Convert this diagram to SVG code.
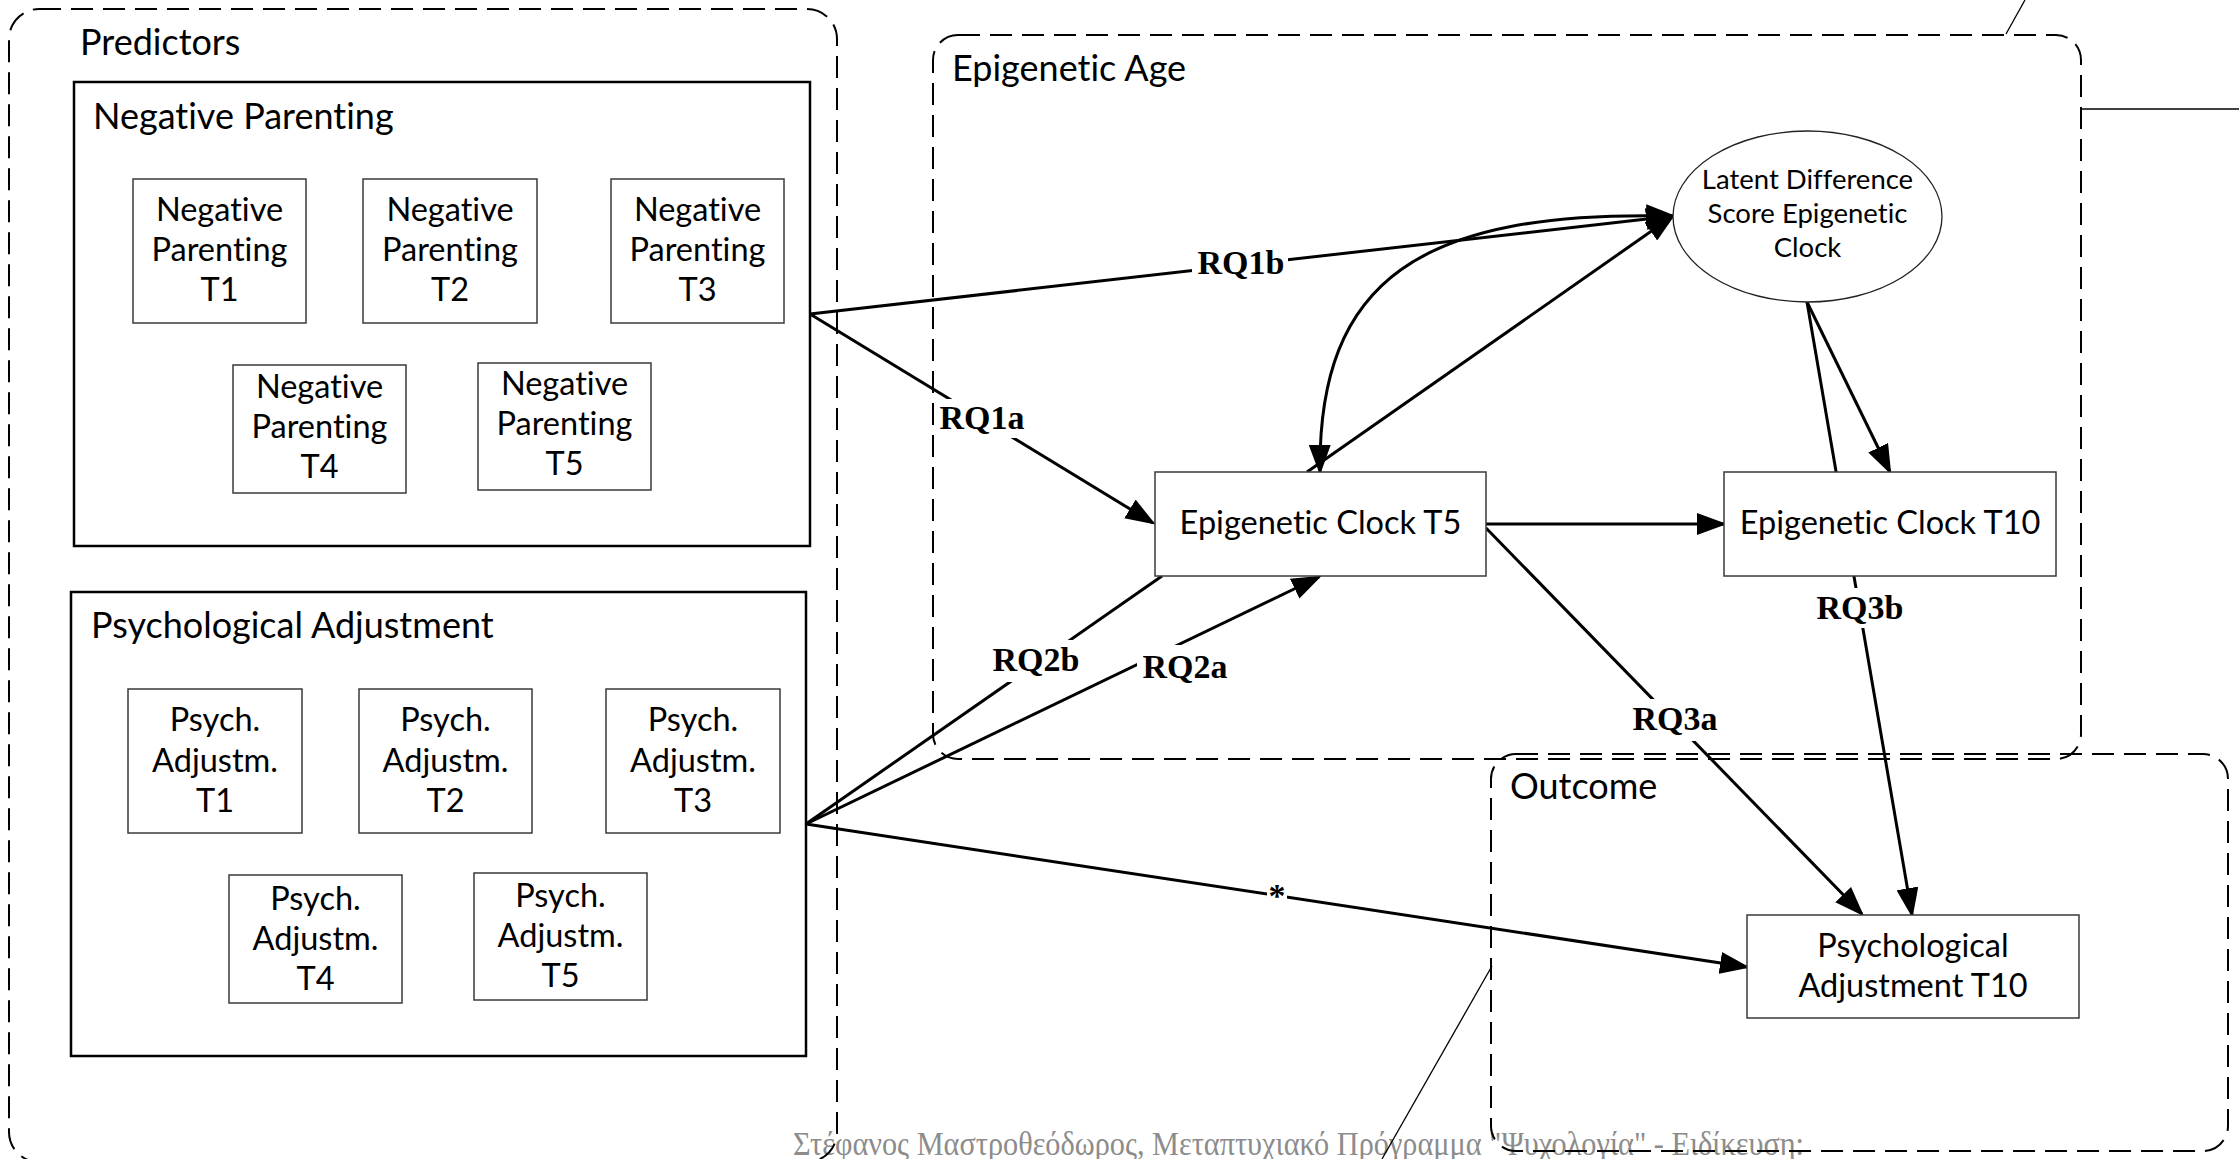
<svg xmlns="http://www.w3.org/2000/svg" width="2239" height="1159" viewBox="0 0 2239 1159">
  <style>
    .zone { fill: none; stroke: #000; stroke-width: 2; stroke-dasharray: 22 10; }
    .grp { fill: none; stroke: #000; stroke-width: 2.5; }
    .box { fill: #fff; stroke: #3a3a3a; stroke-width: 1.5; }
    .ell { fill: #fff; stroke: #222; stroke-width: 1.3; }
    .lbl, .txt, .small { font-family: Lato, "Liberation Sans", sans-serif; fill: #000; font-variant-ligatures: none; font-feature-settings: "liga" 0; }
    .lbl { font-size: 36px; }
    .txt { font-size: 32.5px; text-anchor: middle; }
    .small { font-size: 27.5px; text-anchor: middle; }
    .rq { font-family: "Liberation Serif", "Times New Roman", serif; font-size: 34px; font-weight: bold; fill: #000; text-anchor: middle; }
    .gap { fill: #fff; stroke: none; }
    .edge { fill: none; stroke: #000; stroke-width: 3; }
    .thin { fill: none; stroke: #000; stroke-width: 1.3; }
    .foot { font-family: "Liberation Serif", "DejaVu Serif", serif; font-size: 34px; fill: #8c8c8c; }
  </style>
  <defs>
    <marker id="arrow" viewBox="0 0 30 22" refX="27" refY="11" markerWidth="30" markerHeight="22" markerUnits="userSpaceOnUse" orient="auto-start-reverse">
      <path d="M0,0 L30,11 L0,22 z" fill="#000"/>
    </marker>
  </defs>

  <rect width="2239" height="1159" fill="#fff"/>

  <!-- page footer -->
  <text class="foot" x="793" y="1155" textLength="1011" lengthAdjust="spacingAndGlyphs">Στέφανος Μαστροθεόδωρος, Μεταπτυχιακό Πρόγραμμα &quot;Ψυχολογία&quot; - Ειδίκευση:</text>

  <!-- stray callout strokes -->
  <g id="callouts">
    <line class="thin" x1="2006" y1="34" x2="2025" y2="0"/>
    <line class="thin" x1="2081" y1="109" x2="2239" y2="109"/>
    <line class="thin" x1="1492" y1="966" x2="1382" y2="1159"/>
  </g>

  <!-- dashed zones -->
  <g id="zone-predictors">
    <rect class="zone" x="9" y="9" width="828" height="1153" rx="30" ry="30"/>
    <text class="lbl" x="80" y="55">Predictors</text>
  </g>
  <g id="zone-epigenetic">
    <rect class="zone" x="933" y="35" width="1148" height="724" rx="25" ry="25"/>
    <text class="lbl" x="952" y="81">Epigenetic Age</text>
  </g>
  <g id="zone-outcome">
    <rect class="zone" x="1491" y="754" width="737" height="397" rx="25" ry="25"/>
    <text class="lbl" x="1510" y="799">Outcome</text>
  </g>

  <!-- construct groups -->
  <g id="group-negative-parenting">
    <rect class="grp" x="74" y="82" width="736" height="464"/>
    <text class="lbl" x="93" y="129">Negative Parenting</text>
  </g>
  <g id="group-psych-adjustment">
    <rect class="grp" x="71" y="592" width="735" height="464"/>
    <text class="lbl" x="91" y="638">Psychological Adjustment</text>
  </g>

  <!-- connectors -->
  <g id="connectors">
    <path class="edge" d="M810,314 L1673,216" marker-end="url(#arrow)"/>
    <path class="edge" d="M810,314 L1153,523" marker-end="url(#arrow)"/>
    <path class="edge" d="M1307,472 L1673,216" marker-end="url(#arrow)"/>
    <path class="edge" d="M1673,216 C1420,210 1318,280 1320,472" marker-start="url(#arrow)" marker-end="url(#arrow)"/>
    <path class="edge" d="M1486,524 L1724,524" marker-end="url(#arrow)"/>
    <path class="edge" d="M1807,302 L1890,472" marker-end="url(#arrow)"/>
    <path class="edge" d="M1807,302 L1912,915" marker-end="url(#arrow)"/>
    <path class="edge" d="M1486,528 L1862,914" marker-end="url(#arrow)"/>
    <path class="edge" d="M806,824 L1162,576"/>
    <path class="edge" d="M806,824 L1319,577" marker-end="url(#arrow)"/>
    <path class="edge" d="M806,824 L1747,967" marker-end="url(#arrow)"/>

    <rect class="gap" x="1192" y="248" width="96" height="32"/>
    <text class="rq" x="1241" y="274">RQ1b</text>
    <rect class="gap" x="934" y="399" width="96" height="39"/>
    <text class="rq" x="982" y="429">RQ1a</text>
    <rect class="gap" x="990" y="640" width="93" height="42"/>
    <text class="rq" x="1036" y="671">RQ2b</text>
    <rect class="gap" x="1137" y="645" width="95" height="39"/>
    <text class="rq" x="1185" y="678">RQ2a</text>
    <rect class="gap" x="1628" y="699" width="94" height="42"/>
    <text class="rq" x="1675" y="730">RQ3a</text>
    <rect class="gap" x="1813" y="588" width="95" height="40"/>
    <text class="rq" x="1860" y="619">RQ3b</text>
    <rect class="gap" x="1267" y="882" width="20" height="20"/>
    <text class="rq" x="1277" y="907">*</text>
  </g>

  <!-- negative parenting waves -->
  <g id="np-t1">
    <rect class="box" x="133" y="179" width="173" height="144"/>
    <text class="txt" x="219.5" y="221">Negative</text>
    <text class="txt" x="219.5" y="261">Parenting</text>
    <text class="txt" x="219.5" y="301">T1</text>
  </g>
  <g id="np-t2">
    <rect class="box" x="363" y="179" width="174" height="144"/>
    <text class="txt" x="450" y="221">Negative</text>
    <text class="txt" x="450" y="261">Parenting</text>
    <text class="txt" x="450" y="301">T2</text>
  </g>
  <g id="np-t3">
    <rect class="box" x="611" y="179" width="173" height="144"/>
    <text class="txt" x="697.5" y="221">Negative</text>
    <text class="txt" x="697.5" y="261">Parenting</text>
    <text class="txt" x="697.5" y="301">T3</text>
  </g>
  <g id="np-t4">
    <rect class="box" x="233" y="365" width="173" height="128"/>
    <text class="txt" x="319.5" y="398">Negative</text>
    <text class="txt" x="319.5" y="438">Parenting</text>
    <text class="txt" x="319.5" y="478">T4</text>
  </g>
  <g id="np-t5">
    <rect class="box" x="478" y="363" width="173" height="127"/>
    <text class="txt" x="564.5" y="395">Negative</text>
    <text class="txt" x="564.5" y="435">Parenting</text>
    <text class="txt" x="564.5" y="475">T5</text>
  </g>

  <!-- psychological adjustment waves -->
  <g id="pa-t1">
    <rect class="box" x="128" y="689" width="174" height="144"/>
    <text class="txt" x="215" y="731">Psych.</text>
    <text class="txt" x="215" y="772">Adjustm.</text>
    <text class="txt" x="215" y="812">T1</text>
  </g>
  <g id="pa-t2">
    <rect class="box" x="359" y="689" width="173" height="144"/>
    <text class="txt" x="445.5" y="731">Psych.</text>
    <text class="txt" x="445.5" y="772">Adjustm.</text>
    <text class="txt" x="445.5" y="812">T2</text>
  </g>
  <g id="pa-t3">
    <rect class="box" x="606" y="689" width="174" height="144"/>
    <text class="txt" x="693" y="731">Psych.</text>
    <text class="txt" x="693" y="772">Adjustm.</text>
    <text class="txt" x="693" y="812">T3</text>
  </g>
  <g id="pa-t4">
    <rect class="box" x="229" y="875" width="173" height="128"/>
    <text class="txt" x="315.5" y="910">Psych.</text>
    <text class="txt" x="315.5" y="950">Adjustm.</text>
    <text class="txt" x="315.5" y="990">T4</text>
  </g>
  <g id="pa-t5">
    <rect class="box" x="474" y="873" width="173" height="127"/>
    <text class="txt" x="560.5" y="907">Psych.</text>
    <text class="txt" x="560.5" y="947">Adjustm.</text>
    <text class="txt" x="560.5" y="987">T5</text>
  </g>

  <!-- epigenetic clock measures -->
  <g id="clock-t5">
    <rect class="box" x="1155" y="472" width="331" height="104"/>
    <text class="txt" x="1320.5" y="534">Epigenetic Clock T5</text>
  </g>
  <g id="clock-t10">
    <rect class="box" x="1724" y="472" width="332" height="104"/>
    <text class="txt" x="1890" y="534">Epigenetic Clock T10</text>
  </g>
  <g id="lds-clock">
    <ellipse class="ell" cx="1807.5" cy="216.5" rx="134.5" ry="85.5"/>
    <text class="small" x="1807.5" y="189">Latent Difference</text>
    <text class="small" x="1807.5" y="223">Score Epigenetic</text>
    <text class="small" x="1807.5" y="257">Clock</text>
  </g>

  <!-- outcome -->
  <g id="pa-t10">
    <rect class="box" x="1747" y="915" width="332" height="103"/>
    <text class="txt" x="1913" y="957">Psychological</text>
    <text class="txt" x="1913" y="997">Adjustment T10</text>
  </g>
</svg>
